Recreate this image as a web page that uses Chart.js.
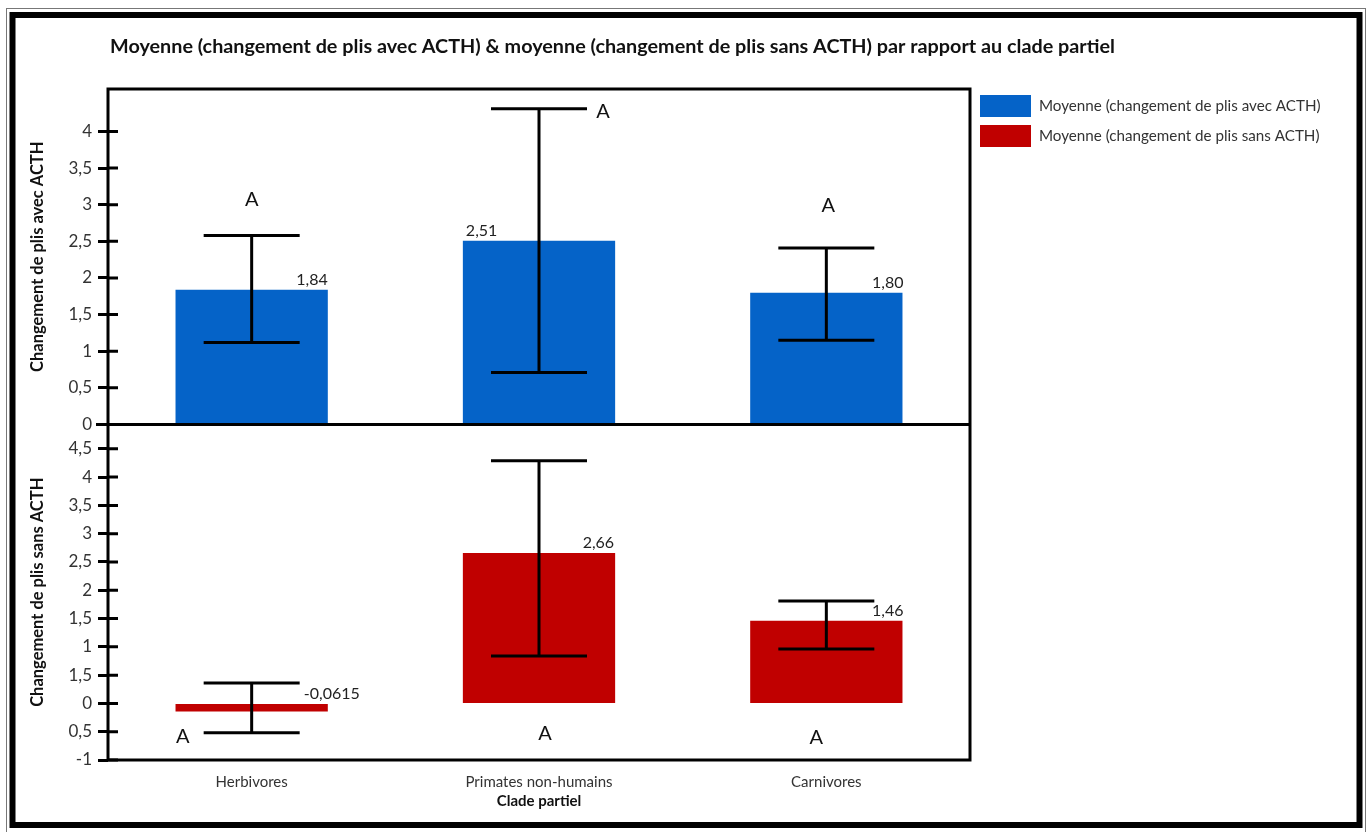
<!DOCTYPE html>
<html>
<head>
<meta charset="utf-8">
<style>
  html, body { margin: 0; padding: 0; background: #ffffff; }
  #wrap { width: 1370px; height: 832px; position: relative; }
  canvas { display: block; }
</style>
<script src="https://cdn.jsdelivr.net/npm/chart.js@4.4.1/dist/chart.umd.min.js"></script>
</head>
<body>
<div id="wrap"><canvas id="chart" width="1370" height="832"></canvas></div>
<script>
// Clades on the shared x axis
const categories = ['Herbivores', 'Primates non-humains', 'Carnivores'];

// Fold change with ACTH: mean and error-bar bounds
const meanWithACTH = [1.84, 2.51, 1.80];
const lowWithACTH  = [1.12, 0.71, 1.15];
const highWithACTH = [2.58, 4.31, 2.41];

// Fold change without ACTH: mean and error-bar bounds
const meanWithoutACTH = [-0.0615, 2.66, 1.46];
const lowWithoutACTH  = [-0.52, 0.84, 0.96];
const highWithoutACTH = [0.36, 4.29, 1.81];

// Statistical group letters
const lettersWithACTH    = ['A', 'A', 'A'];
const lettersWithoutACTH = ['A', 'A', 'A'];

// Axis ticks and the labels printed beside them
const ticksWithACTH = [0, 0.5, 1, 1.5, 2, 2.5, 3, 3.5, 4];
const tickLabelsWithACTH = ['0', '0,5', '1', '1,5', '2', '2,5', '3', '3,5', '4'];
const ticksWithoutACTH = [-1, -0.5, 0, 0.5, 1, 1.5, 2, 2.5, 3, 3.5, 4, 4.5];
const tickLabelsWithoutACTH = ['-1', '0,5', '0', '1,5', '1', '1,5', '2', '2,5', '3', '3,5', '4', '4,5'];

const seriesNames = ['Moyenne (changement de plis avec ACTH)', 'Moyenne (changement de plis sans ACTH)'];
const chartTitle = 'Moyenne (changement de plis avec ACTH) & moyenne (changement de plis sans ACTH) par rapport au clade partiel';

const BLUE = '#0563c8';
const RED = '#c00000';
const FONT = 'Lato, "Open Sans", sans-serif';

// Where each value label sits relative to its bar
const valueLabelPlacement = {
  y1: [
    { anchor: 'right', align: 'right', dx: 0 },
    { anchor: 'left',  align: 'left',  dx: 3 },
    { anchor: 'right', align: 'right', dx: 1 }
  ],
  y2: [
    { anchor: 'right', align: 'left',  dx: -24 },
    { anchor: 'right', align: 'right', dx: -1 },
    { anchor: 'right', align: 'right', dx: 1 }
  ]
};

// Where each group letter sits relative to its error bar
const letterPlacement = {
  y1: [
    { ref: 'high', dx: 0,   dy: -36 },
    { ref: 'high', dx: 64,  dy: 3 },
    { ref: 'high', dx: 2,   dy: -42 }
  ],
  y2: [
    { ref: 'low',  dx: -69, dy: 4 },
    { ref: 'zero', dx: 6,   dy: 30 },
    { ref: 'zero', dx: -10, dy: 34 }
  ]
};

const fmt = v => v.toFixed(Math.abs(v) < 0.1 ? 4 : 2).replace('.', ',');

const panels = [
  { axis: 'y1', mean: meanWithACTH, low: lowWithACTH, high: highWithACTH, letters: lettersWithACTH },
  { axis: 'y2', mean: meanWithoutACTH, low: lowWithoutACTH, high: highWithoutACTH, letters: lettersWithoutACTH }
];

const decorPlugin = {
  id: 'decor',
  beforeDraw(chart) {
    const ctx = chart.ctx;
    ctx.save();
    ctx.fillStyle = '#ffffff';
    ctx.fillRect(0, 0, chart.width, chart.height);
    ctx.restore();
  },
  afterDatasetsDraw(chart) {
    const ctx = chart.ctx;
    const area = chart.chartArea;
    const xs = chart.scales.x;
    ctx.save();

    // Error bars
    ctx.strokeStyle = '#000';
    ctx.lineWidth = 3;
    ctx.lineCap = 'butt';
    panels.forEach(p => {
      const ys = chart.scales[p.axis];
      categories.forEach((c, i) => {
        const cx = xs.getPixelForValue(i);
        const yl = ys.getPixelForValue(p.low[i]);
        const yh = ys.getPixelForValue(p.high[i]);
        ctx.beginPath();
        ctx.moveTo(cx, yl); ctx.lineTo(cx, yh);
        ctx.moveTo(cx - 48, yh); ctx.lineTo(cx + 48, yh);
        ctx.moveTo(cx - 48, yl); ctx.lineTo(cx + 48, yl);
        ctx.stroke();
      });
    });

    // Plot frame, panel divider and inner tick stubs
    ctx.lineWidth = 3;
    ctx.strokeRect(area.left, area.top, area.right - area.left, area.bottom - area.top);
    const divY = chart.scales.y1.bottom;
    ctx.beginPath();
    ctx.moveTo(area.left - 12, divY); ctx.lineTo(area.right, divY);
    ctx.stroke();
    [['y1', ticksWithACTH], ['y2', ticksWithoutACTH]].forEach(([id, ticks]) => {
      const ys = chart.scales[id];
      ctx.beginPath();
      ticks.forEach(v => {
        const y = ys.getPixelForValue(v);
        ctx.moveTo(area.left, y); ctx.lineTo(area.left + 10, y);
      });
      ctx.stroke();
    });

    // Value labels
    ctx.font = '16px ' + FONT;
    ctx.fillStyle = '#222';
    ctx.textBaseline = 'bottom';
    panels.forEach((p, d) => {
      const meta = chart.getDatasetMeta(d);
      meta.data.forEach((bar, i) => {
        const pl = valueLabelPlacement[p.axis][i];
        const half = bar.width / 2;
        const top = Math.min(bar.y, bar.base);
        const x = (pl.anchor === 'right' ? bar.x + half : bar.x - half) + pl.dx;
        ctx.textAlign = pl.align;
        ctx.fillText(fmt(p.mean[i]), x, top - 2);
      });
    });

    // Group letters
    ctx.font = '20px ' + FONT;
    ctx.fillStyle = '#111';
    ctx.textAlign = 'center';
    ctx.textBaseline = 'middle';
    panels.forEach(p => {
      const ys = chart.scales[p.axis];
      p.letters.forEach((txt, i) => {
        const pl = letterPlacement[p.axis][i];
        const refVal = pl.ref === 'high' ? p.high[i] : pl.ref === 'low' ? p.low[i] : 0;
        ctx.fillText(txt, xs.getPixelForValue(i) + pl.dx, ys.getPixelForValue(refVal) + pl.dy);
      });
    });
    ctx.restore();
  },
  afterDraw(chart) {
    const ctx = chart.ctx;
    ctx.save();

    // Title
    ctx.font = 'bold 19.8px ' + FONT;
    ctx.fillStyle = '#111';
    ctx.textAlign = 'left';
    ctx.textBaseline = 'middle';
    ctx.fillText(chartTitle, 110, 47);

    // Legend
    ctx.font = '15.2px ' + FONT;
    chart.data.datasets.forEach((ds, i) => {
      ctx.fillStyle = ds.backgroundColor;
      ctx.fillRect(980, 95 + 30 * i, 51, 22);
      ctx.fillStyle = '#333';
      ctx.fillText(ds.label, 1039, 106 + 30 * i);
    });

    // Outer frame
    ctx.strokeStyle = '#777';
    ctx.lineWidth = 1;
    ctx.strokeRect(6.5, 8.5, 1359, 830);
    ctx.strokeStyle = '#000';
    ctx.lineWidth = 6;
    ctx.strokeRect(12.5, 15, 1347, 810);
    ctx.restore();
  }
};

function yAxis(tickValues, labels, title, min, max) {
  return {
    type: 'linear',
    position: 'left',
    stack: 'panels',
    stackWeight: 1,
    min: min,
    max: max,
    afterBuildTicks(scale) { scale.ticks = tickValues.map(v => ({ value: v })); },
    afterFit(scale) { scale.width = 108; },
    grid: { display: true, drawOnChartArea: false, drawTicks: true, tickLength: 10, tickWidth: 3, tickColor: '#000', color: '#000' },
    border: { display: false },
    ticks: {
      autoSkip: false,
      font: { family: FONT, size: 17 },
      color: '#333',
      padding: 6,
      callback: (v, i) => labels[i]
    },
    title: {
      display: true,
      text: title,
      font: { family: FONT, size: 16.5, weight: 'bold' },
      color: '#111',
      padding: { top: 28, bottom: 0 }
    }
  };
}

function build() {
  new Chart(document.getElementById('chart'), {
    type: 'bar',
    data: {
      labels: categories,
      datasets: [
        { label: seriesNames[0], data: meanWithACTH, yAxisID: 'y1', backgroundColor: BLUE, borderWidth: 0 },
        { label: seriesNames[1], data: meanWithoutACTH, yAxisID: 'y2', backgroundColor: RED, borderWidth: 0, minBarLength: 8 }
      ]
    },
    options: {
      responsive: false,
      devicePixelRatio: 1,
      animation: false,
      layout: { padding: { top: 89, right: 400, left: 0, bottom: 0 } },
      datasets: { bar: { grouped: false, categoryPercentage: 1, barPercentage: 0.53 } },
      plugins: { legend: { display: false }, tooltip: { enabled: false } },
      scales: {
        x: {
          type: 'category',
          position: 'bottom',
          grid: { display: false, drawTicks: false },
          border: { display: false },
          afterFit(scale) { scale.height = 72; },
          ticks: { font: { family: FONT, size: 15 }, color: '#333', padding: 13, maxRotation: 0 },
          title: {
            display: true,
            text: 'Clade partiel',
            font: { family: FONT, size: 15, weight: 'bold' },
            color: '#111',
            padding: { top: 0, bottom: 22 }
          }
        },
        // Left-side stacked axes are laid out last-first, so the lower panel is declared first
        y2: yAxis(ticksWithoutACTH, tickLabelsWithoutACTH, 'Changement de plis sans ACTH', -1, 4.93),
        y1: yAxis(ticksWithACTH, tickLabelsWithACTH, 'Changement de plis avec ACTH', 0, 4.58)
      }
    },
    plugins: [decorPlugin]
  });
}

Promise.all([
  document.fonts.load('15px Lato'),
  document.fonts.load('bold 15px Lato')
]).then(build, build);
</script>
</body>
</html>
